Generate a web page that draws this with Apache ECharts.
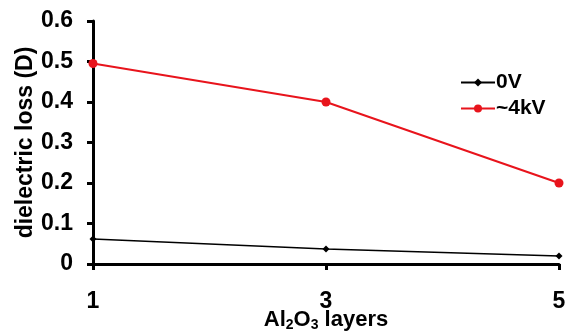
<!DOCTYPE html>
<html>
<head>
<meta charset="utf-8">
<script src="https://cdn.jsdelivr.net/npm/echarts@6/dist/echarts.min.js"></script>
<style>
  html, body { margin: 0; padding: 0; background: #fff; }
  #chart { width: 568px; height: 336px; }
</style>
</head>
<body>
<div id="chart"></div>
<script>
// Number of Al2O3 layers
const layers = [1, 3, 5];
// Dielectric loss without bias
const loss0V = [0.062, 0.037, 0.02];
// Dielectric loss under ~4 kV
const loss4kV = [0.495, 0.40, 0.20];
const yTicks = [0, 0.1, 0.2, 0.3, 0.4, 0.5, 0.6];

const font = 'Liberation Sans, Arial, sans-serif';
const chart = echarts.init(document.getElementById('chart'));

chart.setOption({
  animation: false,
  backgroundColor: '#ffffff',
  grid: { left: 93, right: 9, top: 21, bottom: 72, containLabel: false, outerBoundsMode: 'none' },
  legend: {
    orient: 'vertical',
    left: 455,
    top: 67,
    itemWidth: 34,
    itemHeight: 10,
    itemGap: 5,
    textStyle: { fontFamily: font, fontWeight: 'bold', fontSize: 21, color: '#000', padding: [0, 0, 0, -4] },
    data: ['0V', '~4kV']
  },
  xAxis: {
    type: 'value',
    min: 1,
    max: 5,
    interval: 2,
    splitLine: { show: false },
    axisLine: { lineStyle: { color: '#000', width: 3 } },
    axisTick: { show: true, length: 6, lineStyle: { color: '#000', width: 3 } },
    axisLabel: { fontFamily: font, fontWeight: 'bold', fontSize: 23, color: '#000', margin: 26 },
    name: '{n|Al}{s|2}{n|O}{s|3}{n| layers}',
    nameLocation: 'middle',
    nameGap: 44,
    nameMoveOverlap: false,
    nameTextStyle: {
      rich: {
        n: { fontFamily: font, fontWeight: 'bold', fontSize: 22, color: '#000' },
        s: { fontFamily: font, fontWeight: 'bold', fontSize: 14, color: '#000', verticalAlign: 'bottom', padding: [10, 0, 0, 0] }
      }
    }
  },
  yAxis: {
    type: 'value',
    min: yTicks[0],
    max: yTicks[yTicks.length - 1],
    interval: 0.1,
    splitLine: { show: false },
    axisLine: { show: true, lineStyle: { color: '#000', width: 3 } },
    axisTick: { show: true, length: 6, lineStyle: { color: '#000', width: 3 } },
    axisLabel: { fontFamily: font, fontWeight: 'bold', fontSize: 23, color: '#000', margin: 20 },
    name: 'dielectric loss (D)',
    nameLocation: 'middle',
    nameGap: 56,
    nameMoveOverlap: false,
    nameTextStyle: { fontFamily: font, fontWeight: 'bold', fontSize: 23, color: '#000' }
  },
  series: [
    {
      name: '0V',
      type: 'line',
      data: layers.map((x, i) => [x, loss0V[i]]),
      symbol: 'diamond',
      symbolSize: 7,
      itemStyle: { color: '#000' },
      lineStyle: { color: '#000', width: 1.5 },
      z: 3
    },
    {
      name: '~4kV',
      type: 'line',
      data: layers.map((x, i) => [x, loss4kV[i]]),
      symbol: 'circle',
      symbolSize: 9,
      itemStyle: { color: '#e8141c' },
      lineStyle: { color: '#e8141c', width: 2 },
      z: 3
    }
  ]
});
</script>
</body>
</html>
